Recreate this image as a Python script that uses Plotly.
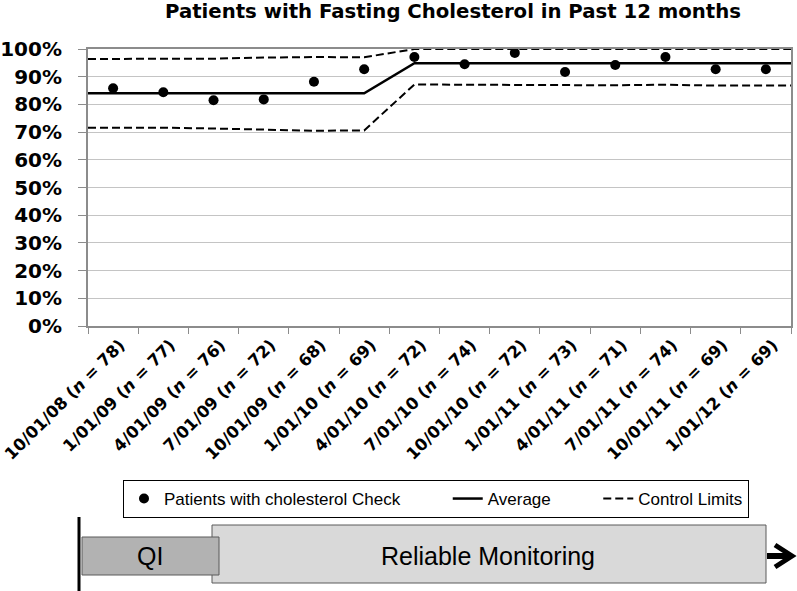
import plotly.graph_objects as go

# ---------------- data ----------------
dates = ["10/01/08", "1/01/09", "4/01/09", "7/01/09", "10/01/09", "1/01/10", "4/01/10",
         "7/01/10", "10/01/10", "1/01/11", "4/01/11", "7/01/11", "10/01/11", "1/01/12"]
n_values = [78, 77, 76, 72, 68, 69, 72, 74, 72, 73, 71, 74, 69, 69]
pct_checked = [85.8, 84.4, 81.5, 81.8, 88.2, 92.7, 97.1, 94.5, 98.6, 91.7, 94.2, 97.1, 92.7, 92.7]
average = [84.0, 84.0, 84.0, 84.0, 84.0, 84.0, 94.9, 94.9, 94.9, 94.9, 94.9, 94.9, 94.9, 94.9]
upper_limit = [96.4, 96.4, 96.5, 96.9, 97.1, 97.0, 100, 100, 100, 100, 100, 100, 100, 100]
lower_limit = [71.6, 71.6, 71.3, 71.0, 70.5, 70.6, 87.2, 87.1, 87.0, 87.0, 86.9, 87.1, 86.8, 86.8]
y_ticks = [0, 10, 20, 30, 40, 50, 60, 70, 80, 90, 100]
y_tick_text = [f"{v}%" for v in y_ticks]

title_text = "Patients with Fasting Cholesterol in Past 12 months"
series_names = ["Patients with cholesterol Check", "Average", "Control Limits"]
phase_labels = ["QI", "Reliable Monitoring"]

# ---------------- geometry helpers ----------------
W, H = 797, 591
L, R, T, B = 88, 791, 49, 326  # plot area in pixels


def px(xp):
    return (xp - L) / (R - L)


def py(yp):
    return (B - yp) / (B - T)


idx = list(range(len(dates)))
tick_text = [f"{d} (<i>n</i> = {n})" for d, n in zip(dates, n_values)]
# lines run edge-to-edge of the plot area, holding first/last values
x_ext = [idx[0] - 0.5] + idx + [idx[-1] + 0.5]


def ext(vals):
    return [vals[0]] + vals + [vals[-1]]


NB = "\u00a0"
fig = go.Figure()
fig.add_trace(go.Scatter(
    x=x_ext, y=ext(upper_limit), mode="lines", name=series_names[2],
    line=dict(color="black", width=2, dash="8px,4px"), legendrank=3, showlegend=True))
fig.add_trace(go.Scatter(
    x=x_ext, y=ext(lower_limit), mode="lines", name=series_names[2],
    line=dict(color="black", width=2, dash="8px,4px"), showlegend=False))
fig.add_trace(go.Scatter(
    x=x_ext, y=ext(average), mode="lines", name=series_names[1] + NB * 9,
    line=dict(color="black", width=2.5), legendrank=2))
fig.add_trace(go.Scatter(
    x=idx, y=pct_checked, mode="markers", name=series_names[0] + NB * 9,
    marker=dict(color="black", size=10, symbol="circle"), legendrank=1))

axis_font = dict(family="DejaVu Sans, Verdana, sans-serif", color="black")

fig.update_layout(
    width=W, height=H, autosize=False,
    margin=dict(l=L, r=W - R, t=T, b=H - B, pad=0, autoexpand=False),
    paper_bgcolor="white", plot_bgcolor="white",
    title=dict(text=title_text, x=453 / W, xanchor="center", xref="container",
               y=1 - 11 / H, yanchor="middle", yref="container", automargin=False,
               font=dict(family="DejaVu Sans, Verdana, sans-serif", size=19.7, weight="bold", color="black")),
    showlegend=True,
    legend=dict(orientation="h", x=px(123), xanchor="left", y=py(480), yanchor="top",
                bordercolor="black", borderwidth=1, bgcolor="white",
                font=dict(family="Liberation Sans, Arial, sans-serif", size=17, color="black"),
                traceorder="normal"),
    xaxis=dict(range=[-0.5, len(dates) - 0.5], tickmode="array", tickvals=idx, ticktext=tick_text,
               tickangle=-45, ticks="", showgrid=False, zeroline=False, automargin=False,
               ticklabeloverflow="allow", ticklabelshift=7, ticklabelstandoff=1,
               showline=True, linecolor="#8c8c8c", linewidth=2, mirror=True,
               tickfont=dict(size=16.5, weight="bold", **axis_font),
               minor=dict(tick0=-0.5, dtick=1, ticks="outside", ticklen=6, tickcolor="#8c8c8c",
                          tickwidth=1, showgrid=False),
               layer="below traces"),
    yaxis=dict(range=[0, 100], tickmode="array", tickvals=y_ticks, ticktext=y_tick_text,
               ticks="outside", ticklen=8, tickcolor="#8c8c8c", tickwidth=1, automargin=False,
               ticklabeloverflow="allow",
               showgrid=True, gridcolor="#c4c4c4", gridwidth=1, zeroline=False,
               showline=True, linecolor="#8c8c8c", linewidth=2, mirror=True,
               tickfont=dict(size=20, weight="bold", **axis_font),
               ticklabelstandoff=12, layer="below traces"),
)

# ---------------- phase timeline ----------------
shapes = [
    dict(type="line", xref="paper", yref="paper", x0=px(79), x1=px(79), y0=py(517), y1=py(591),
         line=dict(color="black", width=3)),
    dict(type="rect", xref="paper", yref="paper", x0=px(212), x1=px(766), y0=py(583), y1=py(525),
         fillcolor="#d9d9d9", line=dict(color="#5a5a5a", width=1)),
    dict(type="rect", xref="paper", yref="paper", x0=px(82), x1=px(219), y0=py(575), y1=py(537),
         fillcolor="#b2b2b2", line=dict(color="#5a5a5a", width=1)),
    dict(type="line", xref="paper", yref="paper", x0=px(767), x1=px(790), y0=py(556), y1=py(556),
         line=dict(color="black", width=6)),
    dict(type="path", xref="paper", yref="paper",
         path=f"M {px(775)},{py(545)} L {px(792)},{py(556)} L {px(775)},{py(567)}",
         line=dict(color="black", width=5)),
]
fig.update_layout(shapes=shapes)

fig.add_annotation(xref="paper", yref="paper", x=px(150), y=py(556), text=phase_labels[0],
                   showarrow=False, xanchor="center", yanchor="middle",
                   font=dict(family="Liberation Sans, Arial, sans-serif", size=25, color="black"))
fig.add_annotation(xref="paper", yref="paper", x=px(488), y=py(556), text=phase_labels[1],
                   showarrow=False, xanchor="center", yanchor="middle",
                   font=dict(family="Liberation Sans, Arial, sans-serif", size=25, color="black"))

fig.write_html("out.html", config={"displayModeBar": False},
               post_script="document.body.style.margin='0';document.body.style.overflow='hidden';")
